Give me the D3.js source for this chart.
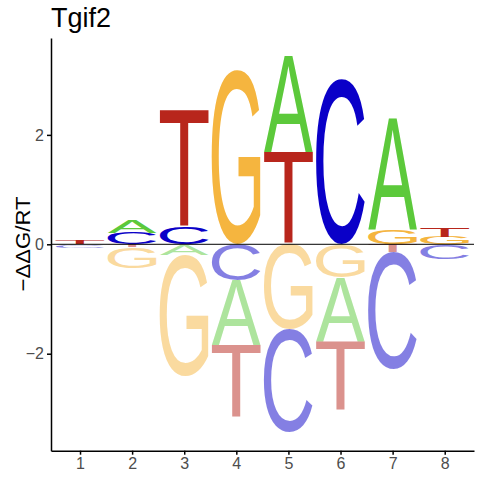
<!DOCTYPE html>
<html>
<head>
<meta charset="utf-8">
<script src="https://cdn.jsdelivr.net/npm/d3@7"></script>
<style>
  body { margin: 0; background: #fff; }
  svg { display: block; }
</style>
</head>
<body>
<svg id="logo" width="480" height="480"></svg>
<script>
// energy logo, one stack of letters per position
let positions = [1, 2, 3, 4, 5, 6, 7, 8];
let bases = ['A', 'C', 'G', 'T'];
// -ddG/RT per base and position
let valuesA = [-0.012, 0.232, -0.188, -1.188, 1.755, -1.177, 2.029, 0];
let valuesC = [-0.05, 0.207, 0.317, -0.658, -1.883, 3.016, -2.132, -0.27];
let valuesG = [0, -0.375, -2.207, 3.186, -1.559, -0.609, 0.256, 0.133];
let valuesT = [0.075, -0.055, 2.133, -1.329, 1.687, -1.249, -0.141, 0.165];
let yTicks = [-2, 0, 2];
let title = 'Tgif2';
let yLabel = '−ΔΔG/RT';

let baseValues = { A: valuesA, C: valuesC, G: valuesG, T: valuesT };
let baseColors = { A: '#5cc93b', C: '#0a00c8', G: '#f5b53f', T: '#b8261c' };
let letterFont = '"Liberation Sans", Arial, sans-serif';
let stackWidth = 0.94;

let svg = d3.select('#logo');

let x = d3.scaleLinear().domain([0.443, 8.562]).range([51, 474]);
let y = d3.scaleLinear().domain([-3.773, 3.771]).range([450.7, 38]);

// ink box of each glyph at 100px, so a letter can be stretched to fill its cell
let ctx = document.createElement('canvas').getContext('2d');
ctx.font = '100px ' + letterFont;
let glyphs = {};
bases.forEach(function(b) {
    let m = ctx.measureText(b);
    glyphs[b] = {
        left: m.actualBoundingBoxLeft,
        right: m.actualBoundingBoxRight,
        ascent: m.actualBoundingBoxAscent,
        descent: m.actualBoundingBoxDescent,
    };
});

// stack: smallest next to zero, biggest furthest out, both directions
let cells = [];
positions.forEach(function(p, i) {
    let col = bases.map(function(b) { return { base: b, pos: p, value: baseValues[b][i] }; });
    let up = col.filter(function(d) { return d.value > 0; })
        .sort(function(a, b) { return a.value - b.value; });
    let down = col.filter(function(d) { return d.value < 0; })
        .sort(function(a, b) { return b.value - a.value; });
    let acc = 0;
    up.forEach(function(d) { d.y0 = acc; acc += d.value; d.y1 = acc; cells.push(d); });
    acc = 0;
    down.forEach(function(d) { d.y0 = acc; acc += d.value; d.y1 = acc; cells.push(d); });
});

svg.append('g').classed('letters', true)
    .selectAll('text')
    .data(cells)
    .enter()
    .append('text')
        .text(function(d) { return d.base; })
        .attr('font-family', letterFont)
        .attr('font-size', 100)
        .attr('fill', function(d) { return baseColors[d.base]; })
        .attr('fill-opacity', function(d) { return d.value < 0 ? 0.5 : 1; })
        .attr('transform', function(d) {
            let g = glyphs[d.base];
            let x0 = x(d.pos - stackWidth / 2);
            let w = x(d.pos + stackWidth / 2) - x0;
            let top = y(Math.max(d.y0, d.y1));
            let h = Math.abs(y(d.y1) - y(d.y0));
            let sx = w / (g.left + g.right);
            let sy = h / (g.ascent + g.descent);
            return 'translate(' + (x0 + g.left * sx) + ',' + (top + g.ascent * sy) + ') scale(' + sx + ',' + sy + ')';
        });

// zero line over the letters
svg.append('line')
    .attr('x1', x.range()[0]).attr('x2', x.range()[1])
    .attr('y1', y(0)).attr('y2', y(0))
    .attr('stroke', '#000').attr('stroke-width', 1);

let xAxis = svg.append('g')
    .attr('transform', 'translate(0,' + y.range()[0] + ')')
    .call(d3.axisBottom(x).tickValues(positions).tickSize(4).tickPadding(3).tickSizeOuter(0));
let yAxis = svg.append('g')
    .attr('transform', 'translate(' + x.range()[0] + ',0)')
    .call(d3.axisLeft(y).tickValues(yTicks).tickSize(4).tickPadding(3).tickSizeOuter(0).tickFormat(d3.format('d')));

[xAxis, yAxis].forEach(function(a) {
    a.select('.domain').attr('stroke', '#000').attr('stroke-width', 1.5);
    a.selectAll('.tick line').attr('stroke', '#000').attr('stroke-width', 1.5);
    a.selectAll('.tick text')
        .attr('fill', '#4d4d4d')
        .attr('font-size', 16)
        .attr('font-family', letterFont);
});

svg.append('text')
    .attr('x', 51).attr('y', 27)
    .attr('font-family', letterFont)
    .attr('font-size', 27)
    .text(title);

svg.append('text')
    .attr('transform', 'translate(30,244) rotate(-90)')
    .attr('text-anchor', 'middle')
    .attr('font-family', letterFont)
    .attr('font-size', 21)
    .attr('textLength', 95)
    .attr('lengthAdjust', 'spacingAndGlyphs')
    .text(yLabel);
</script>
</body>
</html>
